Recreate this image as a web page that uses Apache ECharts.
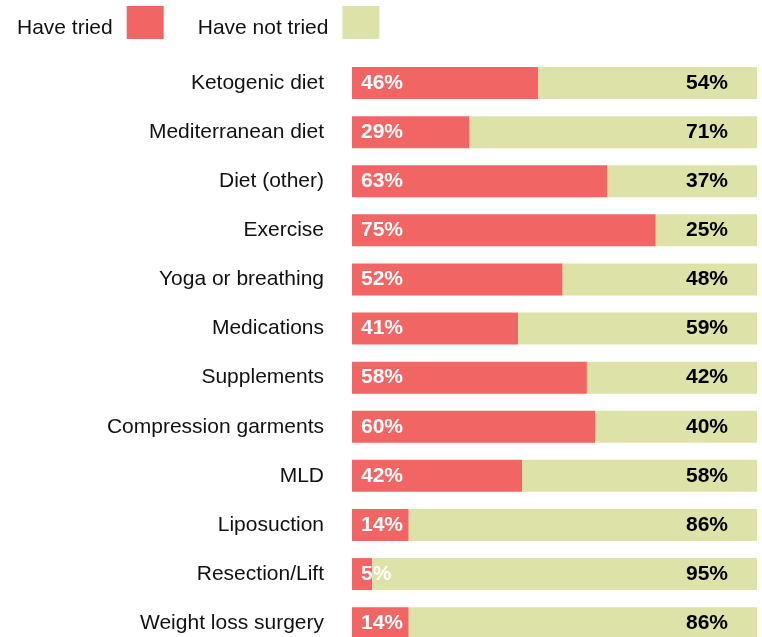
<!DOCTYPE html>
<html>
<head>
<meta charset="utf-8">
<script src="https://cdn.jsdelivr.net/npm/echarts@6/dist/echarts.min.js"></script>
<style>html,body{margin:0;padding:0;background:#fff;}#c{width:762px;height:637px;}</style>
</head>
<body>
<div id="c"></div>
<script>
const categories = ["Ketogenic diet","Mediterranean diet","Diet (other)","Exercise","Yoga or breathing","Medications","Supplements","Compression garments","MLD","Liposuction","Resection/Lift","Weight loss surgery"];
const tried = [46,29,63,75,52,41,58,60,42,14,5,14];
const notTried = [54,71,37,25,48,59,42,40,58,86,95,86];
const seriesNames = ["Have tried","Have not tried"];

const chart = echarts.init(document.getElementById('c'), null, {renderer:'canvas'});
const font = 'Liberation Sans, Arial, Helvetica, sans-serif';
chart.setOption({
  animation: false,
  color: ['#F16565','#DCE2A8'],
  legend: {
    left: 12, top: 1, align: 'right', itemWidth: 37, itemHeight: 33, itemGap: 34,
    icon: 'rect',
    formatter: '{a|{name}}',
    textStyle: {fontFamily: font, fontSize: 21, color: '#111', padding: [0, 9, 0, 0],
      rich: {a: {fontFamily: font, fontSize: 21, color: '#111', padding: [12, 0, 0, 0]}}},
    data: seriesNames
  },
  grid: {left: 352, right: 5, top: 58.5, height: 589.2, containLabel: false, outerBoundsMode: 'none'},
  xAxis: {type: 'value', min: 0, max: 100, show: false},
  yAxis: {
    type: 'category', data: categories, inverse: true,
    axisLine: {show: false}, axisTick: {show: false},
    axisLabel: {fontFamily: font, fontSize: 21, color: '#111', margin: 28}
  },
  series: [
    {name: seriesNames[0], type: 'bar', stack: 'a', data: tried, barWidth: 32,
     label: {show: true, position: 'insideLeft', distance: 9, formatter: '{c}%', color: '#fff', fontWeight: 'bold', fontSize: 21, fontFamily: font}},
    {name: seriesNames[1], type: 'bar', stack: 'a', data: notTried, barWidth: 32,
     label: {show: true, position: 'insideRight', distance: 29, formatter: '{c}%', color: '#000', fontWeight: 'bold', fontSize: 21, fontFamily: font}}
  ]
});
</script>
</body>
</html>
